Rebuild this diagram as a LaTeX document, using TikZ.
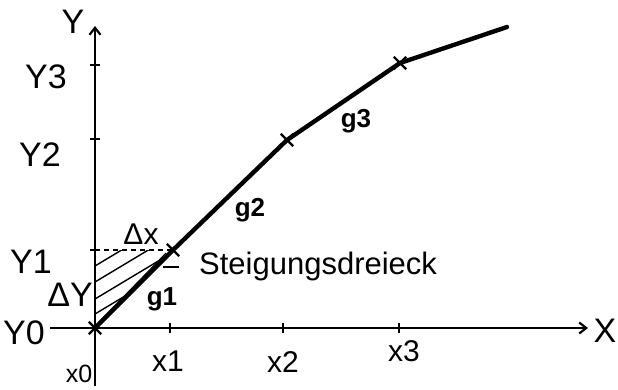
\documentclass[tikz,border=0pt]{standalone}
\usepackage{fontspec}
\setmainfont{Liberation Sans}
\usetikzlibrary{arrows.meta,shapes.misc}
\begin{document}
\begin{tikzpicture}[x=1pt,y=-1pt,
  axis/.style={line width=2.4pt,-{Straight Barb[length=7pt,width=11pt,line width=2.2pt]}},
  curve/.style={line width=4.4pt,line cap=round},
  lbl/.style={font=\fontsize{34}{34}\selectfont,inner sep=0pt},
  lowlbl/.style={font=\fontsize{30}{30}\selectfont,inner sep=0pt},
  slbl/.style={font=\fontsize{26}{26}\selectfont\bfseries,inner sep=0pt},
  ptmark/.style={draw,cross out,minimum size=10pt,inner sep=0pt,line width=2.4pt},
  tickmark/.style={line width=1.8pt},
  hatch/.style={line width=1.4pt}]
\useasboundingbox (0,0) rectangle (618,389);
% axes
\coordinate (ybot) at (95,386);
\coordinate (ytop) at (95,26);
\coordinate (xleft) at (50,328);
\coordinate (xright) at (588,328);
\draw[axis] (ybot) -- (ytop);
\draw[axis] (xleft) -- (xright);
% ticks
\coordinate (ty1) at (95,250);
\coordinate (ty2) at (95,139);
\coordinate (ty3) at (95,65);
\coordinate (tx1) at (170,328);
\coordinate (tx2) at (283,328);
\coordinate (tx3) at (399,328);
\foreach \t in {ty1,ty2,ty3} \draw[tickmark] ([xshift=-5pt]\t) -- ([xshift=5pt]\t);
\foreach \t in {tx1,tx2,tx3} \draw[tickmark] ([yshift=-5pt]\t) -- ([yshift=5pt]\t);
% points
\coordinate (P0) at (95,328);
\coordinate (P1) at (173,250);
\coordinate (P2) at (287,140);
\coordinate (P3) at (400,63);
\coordinate (Pend) at (507,27);
% hatching of the slope triangle
\begin{scope}
  \clip (P0) -- (ty1) -- (P1) -- cycle;
  \foreach \s in {266,282,299,314} \draw[hatch] (95,\s) -- ++(120,-72);
\end{scope}
\draw[line width=1pt] (99,322) -- (166,253);
\draw[dashed,line width=1.6pt,dash pattern=on 5pt off 4pt] (ty1) -- (P1);
% curve
\draw[curve] (P0) -- (P1) -- (P2) -- (P3) -- (Pend);
\foreach \p in {P0,P1,P2,P3} \node[ptmark] (m\p) at (\p) {};
% pointer dash
\coordinate (d1) at (163,267);
\coordinate (d2) at (179,267);
\draw[line width=1.8pt] (d1) -- (d2);
% labels
\node[lbl] (lY) at (73,22) {Y};
\node[lbl] (lX) at (605,331) {X};
\node[lbl] (ly3) at (46,77) {Y3};
\node[lbl] (ly2) at (40,155) {Y2};
\node[lbl] (ly1) at (31,262) {Y1};
\node[lbl] (ly0) at (24,333) {Y0};
\node[lowlbl,font=\fontsize{25}{25}\selectfont] (lx0) at (79,374) {x0};
\node[lowlbl] (lx1) at (168,361) {x1};
\node[lowlbl] (lx2) at (283,362) {x2};
\node[lowlbl] (lx3) at (404,351) {x3};
\node[lowlbl] (ldx) at (141,234) {Δx};
\node[lbl] (ldy) at (70,295) {ΔY};
\node[slbl] (lg1) at (162,299) {g1};
\node[slbl] (lg2) at (250,210) {g2};
\node[slbl] (lg3) at (356,121) {g3};
\node[lbl,anchor=west,font=\fontsize{31}{31}\selectfont] (lst) at (199,266) {Steigungsdreieck};
\end{tikzpicture}
\end{document}
